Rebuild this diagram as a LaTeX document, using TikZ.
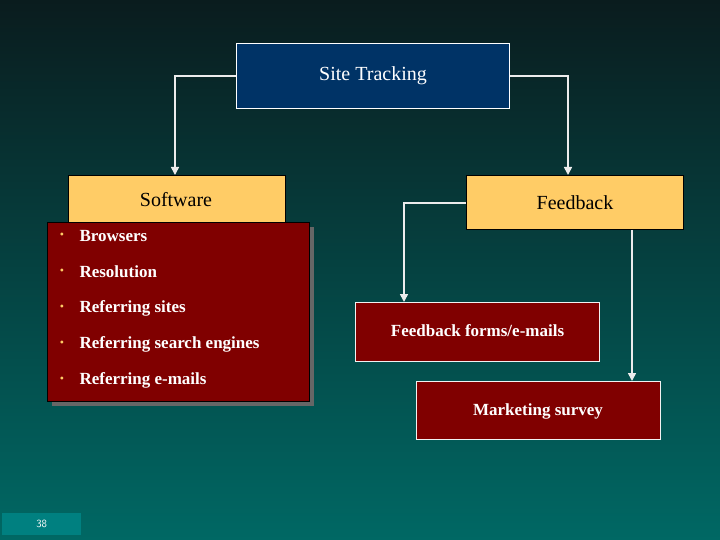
\documentclass[tikz,border=0pt]{standalone}
\usepackage{fontspec}
\setmainfont{Liberation Serif}
\usetikzlibrary{arrows.meta}
\definecolor{bgtop}{RGB}{10,28,30}
\definecolor{bgbot}{RGB}{0,104,100}
\definecolor{navy}{RGB}{0,51,102}
\definecolor{sand}{RGB}{255,204,102}
\definecolor{maroon}{RGB}{128,0,0}
\definecolor{pgbox}{RGB}{0,128,128}
\begin{document}
\begin{tikzpicture}[x=1pt,y=-1pt,
  box/.style={draw=black,line width=1pt,inner sep=0pt,anchor=north west},
  conn/.style={draw=white!85!gray,line width=1.6pt},
  arr/.style={conn,-{Triangle[length=8pt,width=8pt]}},
  lbl/.style={font=\fontsize{20}{22}\selectfont},
  itm/.style={font=\bfseries\fontsize{17}{20}\selectfont,text=white,anchor=west}]
\shade[top color=bgtop,bottom color=bgbot] (0,0) rectangle (720,540);
\useasboundingbox (0,0) rectangle (720,540);
% boxes
\node[box,draw=white,fill=navy,minimum width=273pt,minimum height=65pt] (st) at (236,43) {};
\node[text=white,lbl] at (st.center) {Site Tracking};
\node[box,fill=sand,minimum width=217pt,minimum height=53pt] (sw) at (68,175) {};
\node[lbl,anchor=north] at (176,189) {Software};
\node[box,fill=sand,minimum width=217pt,minimum height=54pt] (fb) at (466,175) {};
\node[lbl] at (575,203) {Feedback};
\fill[black!60] (52,227) rectangle (314,406);
\node[box,fill=maroon,minimum width=262pt,minimum height=179pt] (sl) at (47,222) {};
\foreach \t [count=\i] in {Browsers,Resolution,Referring sites,Referring search engines,Referring e-mails}{
  \node[text=sand,font=\fontsize{12}{12}\selectfont] at (62,236+36*\i-36) {•};
  \node[itm] at (76,236+36*\i-36) {\t};
}
\node[box,draw=white!90!gray,fill=maroon,minimum width=244pt,minimum height=59pt] (ff) at (355,302) {};
\node[itm] at (ff.center) [anchor=center,yshift=1pt] {Feedback forms/e-mails};
\node[box,draw=white!90!gray,fill=maroon,minimum width=244pt,minimum height=58pt] (ms) at (416,381) {};
\node[itm,anchor=center] at (538,411) {Marketing survey};
% connectors
\coordinate (c1) at (175,76);
\coordinate (c2) at (568,76);
\coordinate (c3) at (404,203);
\draw[arr] (st.west |- c1) -- (c1) -- (sw.north -| c1);
\draw[arr] (st.east |- c2) -- (c2) -- (fb.north -| c2);
\draw[arr] (fb.west |- c3) -- (c3) -- (ff.north -| c3);
\draw[arr] (fb.south -| 632,0) -- (ms.north -| 632,0);
% page number
\node[anchor=north west,fill=pgbox,minimum width=79pt,minimum height=22pt,inner sep=0pt,text=white,font=\sffamily\fontsize{11}{11}\selectfont] (pg) at (2,513) {38};
\end{tikzpicture}
\end{document}
